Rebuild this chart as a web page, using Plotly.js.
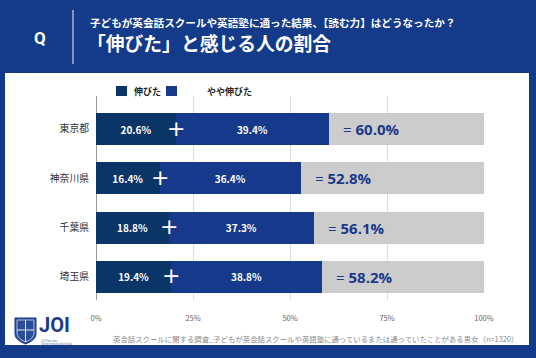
<!DOCTYPE html>
<html><head><meta charset="utf-8">
<script src="https://cdn.plot.ly/plotly-3.0.1.min.js"></script>
<style>html,body{margin:0;padding:0;background:#143a8a;}#chart{width:536px;height:358px;}</style>
</head><body><div id="chart"></div>
<script>
// ---- data ----
const categories = ['東京都', '神奈川県', '千葉県', '埼玉県'];
const nobita = [20.6, 16.4, 18.8, 19.4];        // 伸びた
const yayaNobita = [39.4, 36.4, 37.3, 38.8];    // やや伸びた
const totals = [60.0, 52.8, 56.1, 58.2];        // 合計
const seriesNames = ['伸びた', 'やや伸びた'];
const xTickVals = [0, 25, 50, 75, 100];
const xTickText = ['0%', '25%', '50%', '75%', '100%'];

// ---- styles ----
const NAVY = '#143a8a';
const DARK = '#0b3467';
const BLUE = '#17398b';
const GRAY = '#cccccc';
const FONT = '"Noto Sans CJK JP", "Noto Sans", sans-serif';

const W = 536, H = 358, L = 96, R = 484, T = 96, B = 300;
const px = x => (x - L) / (R - L);
const py = y => (B - y) / (B - T);

const rest = totals.map(t => +(100 - t).toFixed(1));
const pct = v => v.toFixed(1) + '%';

const traces = [
  {type: 'bar', orientation: 'h', y: categories, x: nobita, name: seriesNames[0],
   marker: {color: DARK}, text: nobita.map(pct), textposition: 'inside', insidetextanchor: 'middle',
   textfont: {color: '#fff', size: 10, family: FONT, weight: 'bold'}, hoverinfo: 'none'},
  {type: 'bar', orientation: 'h', y: categories, x: yayaNobita, name: seriesNames[1],
   marker: {color: BLUE}, text: yayaNobita.map(pct), textposition: 'inside', insidetextanchor: 'middle',
   textfont: {color: '#fff', size: 10, family: FONT, weight: 'bold'}, hoverinfo: 'none'},
  {type: 'bar', orientation: 'h', y: categories, x: rest, name: 'その他',
   marker: {color: GRAY}, hoverinfo: 'none', showlegend: false}
];

const annotations = [];
categories.forEach((c, i) => {
  annotations.push({x: nobita[i], y: c, xref: 'x', yref: 'y', text: '+', showarrow: false,
    font: {color: '#fff', size: 22, family: '"DejaVu Sans", sans-serif'}, xanchor: 'center', yanchor: 'middle', yshift: 1});
  annotations.push({x: totals[i], y: c, xref: 'x', yref: 'y',
    text: '<span style="font-weight:normal">= </span>' + pct(totals[i]), showarrow: false,
    font: {color: '#1b3a8a', size: 15, family: '"Open Sans", "Noto Sans", sans-serif', weight: 'bold'},
    xanchor: 'left', yanchor: 'middle', xshift: 12});
});

// header
annotations.push({x: px(40), y: py(38), xref: 'paper', yref: 'paper', text: 'Q', showarrow: false,
  font: {color: '#fff', size: 17, family: '"Roboto", sans-serif', weight: 'bold'}, xanchor: 'center', yanchor: 'middle'});
annotations.push({x: px(89), y: py(22.5), xref: 'paper', yref: 'paper', borderpad: 0,
  text: '子どもが英会話スクールや英語塾に通った結果、【読む力】はどうなったか？', showarrow: false,
  font: {color: '#fff', size: 10.6, family: FONT, weight: 'bold'}, xanchor: 'left', yanchor: 'middle'});
annotations.push({x: px(86), y: py(42), xref: 'paper', yref: 'paper', borderpad: 0,
  text: '「伸びた」と感じる人の割合', showarrow: false,
  font: {color: '#fff', size: 18.8, family: FONT, weight: 'bold'}, xanchor: 'left', yanchor: 'middle'});

// legend
annotations.push({x: px(132), y: py(91), xref: 'paper', yref: 'paper', text: seriesNames[0], showarrow: false,
  font: {color: '#222', size: 9, family: FONT, weight: 'bold'}, xanchor: 'left', yanchor: 'middle'});
annotations.push({x: px(205), y: py(91), xref: 'paper', yref: 'paper', text: seriesNames[1], showarrow: false,
  font: {color: '#222', size: 9, family: FONT, weight: 'bold'}, xanchor: 'left', yanchor: 'middle'});

// footer
annotations.push({x: px(520), y: py(338), xref: 'paper', yref: 'paper',
  text: '英会話スクールに関する調査_子どもが英会話スクールや英語塾に通っているまたは通っていたことがある男女（n=1320）',
  showarrow: false, font: {color: '#8a8a8a', size: 7.4, family: FONT}, xanchor: 'right', yanchor: 'middle'});
// logo text
annotations.push({x: px(38), y: py(325), xref: 'paper', yref: 'paper', text: 'JOI', showarrow: false, borderpad: 0,
  font: {color: '#1b3a8a', size: 20, family: '"Roboto", sans-serif', weight: 'bold'}, xanchor: 'left', yanchor: 'middle'});
annotations.push({x: px(40), y: py(342), xref: 'paper', yref: 'paper', text: 'JOI Kids Labo<br>Online International School', showarrow: false, borderpad: 0,
  font: {color: '#6a7aa8', size: 2.6, family: '"Roboto", sans-serif'}, xanchor: 'left', yanchor: 'middle', align: 'left'});

const P = (x, y) => px(x).toFixed(4) + ',' + py(y).toFixed(4);
const shapes = [
  // white panel
  {type: 'rect', xref: 'paper', yref: 'paper', x0: px(5), x1: px(529), y0: py(73), y1: py(345),
   fillcolor: '#ffffff', line: {width: 0}, layer: 'below'},
  // header divider
  {type: 'line', xref: 'paper', yref: 'paper', x0: px(73), x1: px(73), y0: py(10), y1: py(64),
   line: {color: '#c8d2ea', width: 1.2}},
  // legend squares
  {type: 'rect', xref: 'paper', yref: 'paper', x0: px(116), x1: px(127), y0: py(86), y1: py(96),
   fillcolor: DARK, line: {width: 0}},
  {type: 'rect', xref: 'paper', yref: 'paper', x0: px(166), x1: px(177), y0: py(86), y1: py(96),
   fillcolor: BLUE, line: {width: 0}},
  // logo shield
  {type: 'path', xref: 'paper', yref: 'paper',
   path: 'M' + P(15, 318) + 'L' + P(36, 318) + 'L' + P(36, 334) + 'Q' + P(36, 340) + ' ' + P(25.5, 344) +
         'Q' + P(15, 340) + ' ' + P(15, 334) + 'Z',
   fillcolor: '#2a4d97', line: {color: '#1b3a8a', width: 1}},
  {type: 'path', xref: 'paper', yref: 'paper',
   path: 'M' + P(17, 320) + 'L' + P(34, 320) + 'L' + P(34, 333) + 'Q' + P(34, 338.5) + ' ' + P(25.5, 342) +
         'Q' + P(17, 338.5) + ' ' + P(17, 333) + 'Z',
   fillcolor: 'rgba(0,0,0,0)', line: {color: '#c9d3ea', width: 0.8}},
  {type: 'line', xref: 'paper', yref: 'paper', x0: px(25.5), x1: px(25.5), y0: py(320), y1: py(342),
   line: {color: '#e6ebf6', width: 1}},
  {type: 'line', xref: 'paper', yref: 'paper', x0: px(17), x1: px(34), y0: py(330), y1: py(330),
   line: {color: '#e6ebf6', width: 1}}
];

const layout = {
  width: W, height: H,
  margin: {l: L, r: W - R, t: T, b: H - B, pad: 0},
  paper_bgcolor: NAVY, plot_bgcolor: '#ffffff',
  barmode: 'stack', bargap: 0.35, showlegend: false,
  font: {family: FONT},
  xaxis: {range: [0, 100], tickvals: xTickVals, ticktext: xTickText, showgrid: true, gridcolor: '#dddddd',
    gridwidth: 1, zeroline: true, zerolinecolor: '#9a9a9a', zerolinewidth: 1, showline: false,
    tickfont: {size: 7.5, color: '#666'}, ticks: '', ticklabelstandoff: 12, fixedrange: true},
  yaxis: {categoryorder: 'array', categoryarray: categories, range: [3.47, -0.67], showgrid: false,
    zeroline: false, showline: false, ticks: '', ticklabelstandoff: 6,
    tickfont: {size: 9.8, color: '#333', family: FONT}, fixedrange: true},
  annotations: annotations, shapes: shapes
};

Plotly.newPlot('chart', traces, layout, {staticPlot: true, displayModeBar: false});
</script></body></html>
